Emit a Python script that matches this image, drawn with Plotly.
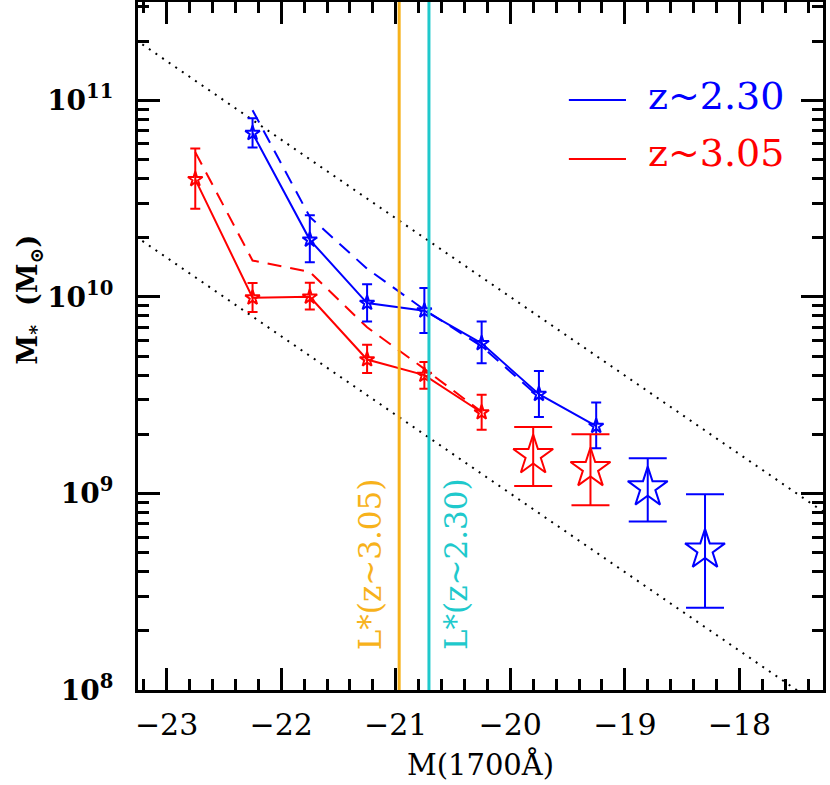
import plotly.graph_objects as go

# ---------------- data ----------------
# z~2.30 sample (blue): small stars with solid line
mag_z230 = [-22.25, -21.75, -21.25, -20.75, -20.25, -19.75, -19.25]
mass_z230 = [6.8e10, 1.95e10, 9.3e9, 8.5e9, 5.8e9, 3.2e9, 2.2e9]
mass_z230_hi = [8.1e10, 2.6e10, 1.16e10, 1.11e10, 7.5e9, 4.2e9, 2.9e9]
mass_z230_lo = [5.75e10, 1.5e10, 7.5e9, 6.55e9, 4.6e9, 2.45e9, 1.7e9]
# z~2.30 alternative estimate (blue dashed)
mag_z230_alt = [-22.25, -21.75, -21.25, -20.75, -20.25, -19.75]
mass_z230_alt = [8.9e10, 2.55e10, 1.39e10, 8.6e9, 5.6e9, 3.1e9]

# z~3.05 sample (red): small stars with solid line
mag_z305 = [-22.75, -22.25, -21.75, -21.25, -20.75, -20.25]
mass_z305 = [3.96e10, 9.9e9, 1.0e10, 4.8e9, 4.0e9, 2.58e9]
mass_z305_hi = [5.68e10, 1.175e10, 1.18e10, 5.71e9, 4.66e9, 3.18e9]
mass_z305_lo = [2.81e10, 8.37e9, 8.63e9, 4.1e9, 3.41e9, 2.11e9]
# z~3.05 alternative estimate (red dashed)
mag_z305_alt = [-22.75, -22.25, -21.75, -21.25, -20.75, -20.25]
mass_z305_alt = [5.45e10, 1.53e10, 1.34e10, 7.0e9, 4.3e9, 2.6e9]

# faint stacked points (big open stars)
mag_big_z305 = [-19.8, -19.3]
mass_big_z305 = [1.56e9, 1.34e9]
mass_big_z305_hi = [2.18e9, 2.0e9]
mass_big_z305_lo = [1.09e9, 8.7e8]
mag_big_z230 = [-18.8, -18.3]
mass_big_z230 = [1.07e9, 5.16e8]
mass_big_z230_hi = [1.51e9, 9.9e8]
mass_big_z230_lo = [7.2e8, 2.62e8]

# constant M/L reference lines (dotted)
ref_mag = [-23.5, -17.0]
ref_upper_mass = [2.51e11, 6.31e8]
ref_lower_mass = [2.51e10, 6.31e7]

# characteristic magnitudes
lstar_z305 = -20.97
lstar_z230 = -20.71

# tick labels
y_tickvals = [1e8, 1e9, 1e10, 1e11]
y_ticktext = ["10<sup>8</sup>", "10<sup>9</sup>", "10<sup>10</sup>", "10<sup>11</sup>"]
x_tickvals = [-23, -22, -21, -20, -19, -18]
x_ticktext = ["\u221223", "\u221222", "\u221221", "\u221220", "\u221219", "\u221218"]

BLUE = "#0000FF"
RED = "#FF0000"
ORANGE = "#F7B21B"
CYAN = "#1FC9CC"
SERIF = "DejaVu Serif"


def errs(vals, hi, lo):
    return ([h - v for v, h in zip(vals, hi)], [v - l for v, l in zip(vals, lo)])


fig = go.Figure()

# dotted reference lines
for m in (ref_upper_mass, ref_lower_mass):
    fig.add_trace(go.Scatter(x=ref_mag, y=m, mode="lines",
                             line=dict(color="black", width=2, dash="2px,6px"),
                             showlegend=False, hoverinfo="skip"))

# dashed alternative curves
fig.add_trace(go.Scatter(x=mag_z230_alt, y=mass_z230_alt, mode="lines",
                         line=dict(color=BLUE, width=2, dash="14px,9px"), showlegend=False))
fig.add_trace(go.Scatter(x=mag_z305_alt, y=mass_z305_alt, mode="lines",
                         line=dict(color=RED, width=2, dash="14px,9px"), showlegend=False))

# main series
for mag, mass, hi, lo, col in ((mag_z230, mass_z230, mass_z230_hi, mass_z230_lo, BLUE),
                               (mag_z305, mass_z305, mass_z305_hi, mass_z305_lo, RED)):
    up, dn = errs(mass, hi, lo)
    fig.add_trace(go.Scatter(
        x=mag, y=mass, mode="lines+markers",
        line=dict(color=col, width=2),
        marker=dict(symbol="star-open", size=11, color=col, line=dict(color=col, width=2)),
        error_y=dict(type="data", array=up, arrayminus=dn, color=col, thickness=2, width=5),
        showlegend=False))

# big open stars
for mag, mass, hi, lo, col in ((mag_big_z305, mass_big_z305, mass_big_z305_hi, mass_big_z305_lo, RED),
                               (mag_big_z230, mass_big_z230, mass_big_z230_hi, mass_big_z230_lo, BLUE)):
    up, dn = errs(mass, hi, lo)
    fig.add_trace(go.Scatter(
        x=mag, y=mass, mode="markers",
        marker=dict(symbol="star-open", size=30, color=col, line=dict(color=col, width=2)),
        error_y=dict(type="data", array=up, arrayminus=dn, color=col, thickness=2, width=19),
        showlegend=False))

# vertical L* lines
fig.add_shape(type="line", xref="x", yref="paper", x0=lstar_z305, x1=lstar_z305, y0=0, y1=1,
              line=dict(color=ORANGE, width=3))
fig.add_shape(type="line", xref="x", yref="paper", x0=lstar_z230, x1=lstar_z230, y0=0, y1=1,
              line=dict(color=CYAN, width=3))
fig.add_annotation(x=lstar_z305, y=0.183, xref="x", yref="paper", text="L*(z~3.05)",
                   textangle=-90, showarrow=False, xanchor="right", yanchor="middle", xshift=-9,
                   font=dict(family=SERIF, size=31, color=ORANGE))
fig.add_annotation(x=lstar_z230, y=0.183, xref="x", yref="paper", text="L*(z~2.30)",
                   textangle=-90, showarrow=False, xanchor="left", yanchor="middle", xshift=7,
                   font=dict(family=SERIF, size=31, color=CYAN))

# legend (manual)
for yp, ytxt, label, col in ((0.8576, 0.8634, "z~2.30", BLUE), (0.7718, 0.7805, "z~3.05", RED)):
    fig.add_shape(type="line", xref="paper", yref="paper", x0=0.629, x1=0.7124, y0=yp, y1=yp,
                  line=dict(color=col, width=2))
    fig.add_annotation(x=0.7416, y=ytxt, xref="paper", yref="paper", text=label, showarrow=False,
                       xanchor="left", yanchor="middle", font=dict(family=SERIF, size=38, color=col))

# axis titles
fig.add_annotation(x=0.5, y=-0.109, xref="paper", yref="paper", text="M(1700Å)", showarrow=False,
                   xanchor="center", yanchor="middle", font=dict(family=SERIF, size=29, color="black"))
fig.add_annotation(x=-0.158, y=0.567, xref="paper", yref="paper",
                   text="<b>M<sub>*</sub>  (M<sub>⊙</sub>)</b>", textangle=-90, showarrow=False,
                   xanchor="center", yanchor="middle", font=dict(family=SERIF, size=27, color="black"))

y_minor = [k * 10 ** e for e in (8, 9, 10, 11) for k in range(2, 10) if k * 10 ** e < 3.2e11]

fig.update_xaxes(range=[-23.25, -17.27], showgrid=False, zeroline=False, automargin=False,
                 showline=True, linewidth=3, linecolor="black", mirror="allticks",
                 ticks="inside", ticklen=22, tickwidth=3, tickcolor="black",
                 tickvals=x_tickvals, ticktext=x_ticktext, ticklabelstandoff=6,
                 tickfont=dict(family=SERIF, size=30, color="black"),
                 minor=dict(ticks="inside", ticklen=11, tickwidth=3, tickcolor="black", dtick=0.2,
                            showgrid=False))
fig.update_yaxes(type="log", range=[8, 11.5], showgrid=False, zeroline=False, automargin=False,
                 showline=True, linewidth=3, linecolor="black", mirror="allticks",
                 ticks="inside", ticklen=22, tickwidth=3, tickcolor="black",
                 tickvals=y_tickvals, ticktext=y_ticktext, ticklabelstandoff=16,
                 tickfont=dict(family=SERIF, size=28, color="black", weight="bold"),
                 minor=dict(ticks="inside", ticklen=11, tickwidth=3, tickcolor="black",
                            tickvals=y_minor, showgrid=False))

fig.update_layout(width=830, height=785, margin=dict(l=138, r=7, t=2, b=95),
                  plot_bgcolor="white", paper_bgcolor="white", showlegend=False)

fig.write_html("out.html", config={"displayModeBar": False},
               post_script="document.body.style.margin='0px';document.body.style.overflow='hidden';")
